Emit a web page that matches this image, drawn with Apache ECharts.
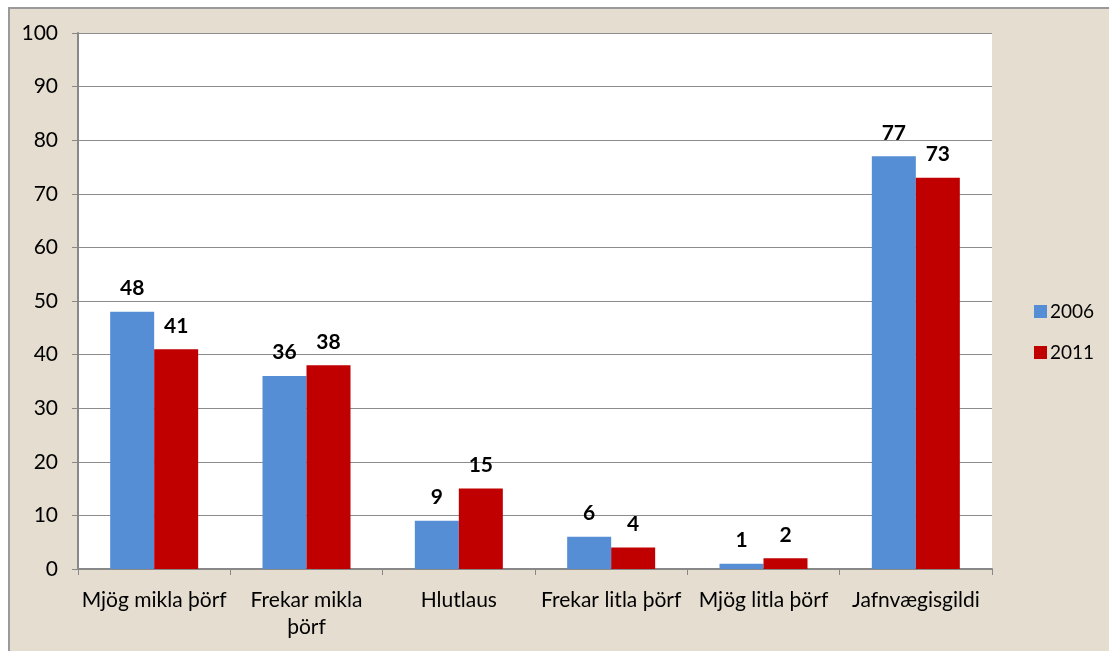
<!DOCTYPE html>
<html><head><meta charset="utf-8">
<script src="https://cdn.jsdelivr.net/npm/echarts@6/dist/echarts.min.js"></script>
<style>
html,body{margin:0;padding:0;background:#fff;width:1109px;height:651px;overflow:hidden;}
#bg{position:absolute;left:8px;top:7px;width:1110px;height:660px;background:#e5ddd0;border-left:2px solid #9a9a9a;border-top:2px solid #9a9a9a;}
#c{position:absolute;left:0;top:0;width:1109px;height:651px;}
</style></head>
<body><div id="bg"></div><div id="c"></div>
<script>
const categories = ["Mjög mikla þörf", "Frekar mikla\nþörf", "Hlutlaus", "Frekar litla þörf", "Mjög litla þörf", "Jafnvægisgildi"];
const seriesNames = ["2006", "2011"];
const values2006 = [48, 36, 9, 6, 1, 77];
const values2011 = [41, 38, 15, 4, 2, 73];
const yMin = 0, yMax = 100, yInterval = 10;

const font = 'Lato, "Open Sans", sans-serif';
const chart = echarts.init(document.getElementById('c'), null, {renderer:'canvas'});
const lbl = {show:true, position:'top', distance:13, fontFamily:font, fontWeight:'bold', fontSize:21, color:'#000'};
chart.setOption({
  backgroundColor:'transparent',
  animation:false,
  grid:{left:78, right:117, top:33, bottom:82, backgroundColor:'#fff', show:true, borderWidth:0},
  legend:{orient:'vertical', left:1029, top:297, itemWidth:13, itemHeight:13, itemGap:22,
    icon:'rect', textStyle:{fontFamily:font, fontSize:19, color:'#000', padding:[0,0,0,-2]}, data:seriesNames},
  xAxis:{type:'category', data:categories,
    axisLine:{lineStyle:{color:'#888', width:2}},
    axisTick:{show:true, length:6, lineStyle:{color:'#888'}},
    axisLabel:{fontFamily:font, fontSize:21, color:'#000', margin:18, lineHeight:27, interval:0}},
  yAxis:{type:'value', min:yMin, max:yMax, interval:yInterval,
    axisLine:{show:true, lineStyle:{color:'#888', width:2}},
    axisTick:{show:true, inside:false, length:6, lineStyle:{color:'#888'}},
    splitLine:{lineStyle:{color:'#8c8c8c', width:1}},
    axisLabel:{fontFamily:font, fontSize:21, color:'#000', margin:20}},
  series:[
    {name:seriesNames[0], type:'bar', data:values2006, barWidth:44, barGap:'0%',
     itemStyle:{color:'#558ed5'}, label:lbl},
    {name:seriesNames[1], type:'bar', data:values2011, barWidth:44, barGap:'0%',
     itemStyle:{color:'#c00000'}, label:lbl}
  ]
});
</script></body></html>
